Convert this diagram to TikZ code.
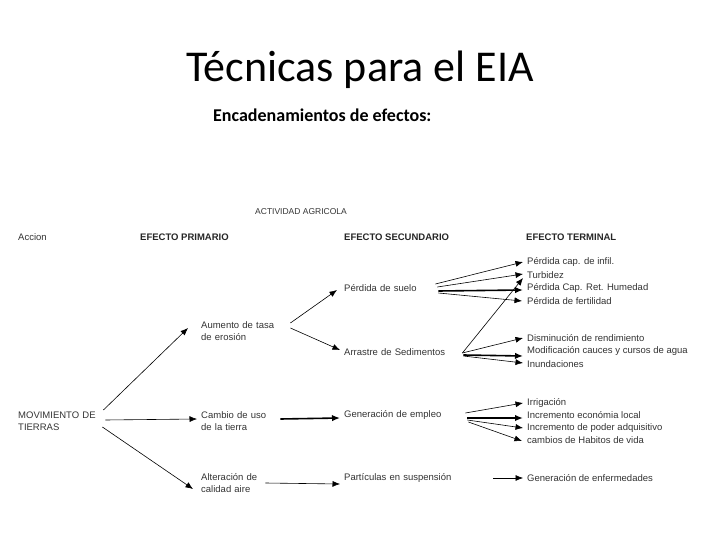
\documentclass[tikz,border=0pt]{standalone}
\usepackage{fontspec}
\setmainfont{Liberation Sans}
\newfontfamily\titlefont{Carlito}
\newfontfamily\dfont{Liberation Sans}
\usetikzlibrary{arrows.meta}
\tikzset{
  lbl/.style={font=\dfont\fontsize{9.5}{12.5}\selectfont, inner sep=0pt, anchor=west, align=left, text=black!80},
  hd/.style={font=\dfont\bfseries\fontsize{9.5}{12}\selectfont, inner sep=0pt, anchor=west, text=black!85},
  con/.style={-{Latex[length=7.5pt,width=6pt]}, line width=0.6pt},
  thk/.style={-{Latex[length=8pt,width=6.5pt]}, line width=1.6pt},
}
\begin{document}
\begin{tikzpicture}[x=1pt,y=-1pt]
\useasboundingbox (0,0) rectangle (720,540);
% titles
\node[font=\titlefont\fontsize{44}{50}\selectfont, inner sep=0pt, anchor=base] (title) at (360,82) {Técnicas para el EIA};
\node[font=\titlefont\bfseries\fontsize{18}{22}\selectfont, inner sep=0pt, anchor=base west] (sub) at (213,122) {Encadenamientos de efectos:};
% headers
\node[lbl, font=\dfont\fontsize{8.5}{10}\selectfont] (act) at (255,212) {ACTIVIDAD AGRICOLA};
\node[lbl] (hacc) at (18,237) {Accion};
\node[hd] (hpri) at (140,237) {EFECTO PRIMARIO};
\node[hd] (hsec) at (344,237) {EFECTO SECUNDARIO};
\node[hd] (hter) at (526,237) {EFECTO TERMINAL};
% action and primary
\node[lbl, text width=82pt] (mov) at (18,421) {MOVIMIENTO DE\\TIERRAS};
\node[lbl, text width=88pt] (aum) at (201,331) {Aumento de tasa\\de erosión};
\node[lbl, text width=78pt] (cam) at (201,421) {Cambio de uso\\de la tierra};
\node[lbl, text width=63pt] (alt) at (201,483) {Alteración de\\calidad aire};
% secondary
\node[lbl, text width=90pt] (ps) at (344,288) {Pérdida de suelo};
\node[lbl, text width=117pt] (arr) at (344,352) {Arrastre de Sedimentos};
\node[lbl, text width=120pt] (gen) at (344,415) {Generación de empleo};
\node[lbl, text width=148pt] (par) at (344,478) {Partículas en suspensión};
% terminal
\node[lbl] (pci) at (527,262) {Pérdida cap. de infil.};
\node[lbl] (tur) at (527,275) {Turbidez};
\node[lbl] (pcr) at (527,288) {Pérdida Cap. Ret. Humedad};
\node[lbl] (pdf) at (527,301) {Pérdida de fertilidad};
\node[lbl] (dis) at (527,338) {Disminución de rendimiento};
\node[lbl] (mod) at (527,351) {Modificación cauces y cursos de agua};
\node[lbl] (inu) at (527,364) {Inundaciones};
\node[lbl] (irr) at (527,403) {Irrigación};
\node[lbl] (inc) at (527,415) {Incremento económia local};
\node[lbl] (pod) at (527,428) {Incremento de poder adquisitivo};
\node[lbl] (hab) at (527,440) {cambios de Habitos de vida};
\node[lbl] (enf) at (527,478) {Generación de enfermedades};
% connectors: action -> primary
\draw[con] ([xshift=3pt,yshift=11pt]mov.east) -- ([xshift=-13pt,yshift=3pt]aum.west);
\draw[con] ([xshift=5pt,yshift=1pt]mov.east) -- ([xshift=-4pt,yshift=2pt]cam.west);
\draw[con] ([xshift=2pt,yshift=-6pt]mov.east) -- ([xshift=-8pt,yshift=-6pt]alt.west);
% primary -> secondary
\draw[con] ([xshift=1pt,yshift=8pt]aum.east) -- ([xshift=-7pt,yshift=-2pt]ps.west);
\draw[con] ([xshift=1pt,yshift=3pt]aum.east) -- ([xshift=-4pt,yshift=2pt]arr.west);
\draw[thk] ([xshift=1pt,yshift=2pt]cam.east) -- ([xshift=-4pt,yshift=-3pt]gen.west);
\draw[con] ([xshift=1pt]alt.east) -- ([xshift=-4pt,yshift=-6pt]par.west);
% secondary -> terminal
\draw[con] ([xshift=1pt,yshift=4pt]ps.east) -- ([xshift=-4pt]pci.west);
\draw[con] ([xshift=3pt,yshift=1pt]ps.east) -- ([xshift=-4pt,yshift=1pt]tur.west);
\draw[thk] ([xshift=4pt,yshift=-3pt]ps.east) -- ([xshift=-4pt,yshift=-2pt]pcr.west);
\draw[con] ([xshift=4pt,yshift=-5pt]ps.east) -- ([xshift=-5pt]pdf.west);
\draw[con] ([xshift=1pt,yshift=-1pt]arr.east) -- ([xshift=-4pt,yshift=-3pt]tur.west);
\draw[con] ([xshift=1pt,yshift=-1pt]arr.east) -- ([xshift=-4pt]dis.west);
\draw[thk] ([xshift=2pt,yshift=-3pt]arr.east) -- ([xshift=-4pt,yshift=-5pt]mod.west);
\draw[con] ([xshift=2pt,yshift=-4pt]arr.east) -- ([xshift=-4pt,yshift=1pt]inu.west);
\draw[con] ([xshift=1pt,yshift=2pt]gen.east) -- ([xshift=-4pt]irr.west);
\draw[thk] ([xshift=3pt,yshift=-3pt]gen.east) -- ([xshift=-4pt,yshift=-3pt]inc.west);
\draw[con] ([xshift=3pt,yshift=-5pt]gen.east) -- ([xshift=-4pt]pod.west);
\draw[con] ([xshift=4pt,yshift=-7pt]gen.east) -- ([xshift=-5pt,yshift=-1pt]hab.west);
\draw[con] ([xshift=1pt]par.east) -- ([xshift=-4pt]enf.west);
\end{tikzpicture}
\end{document}
